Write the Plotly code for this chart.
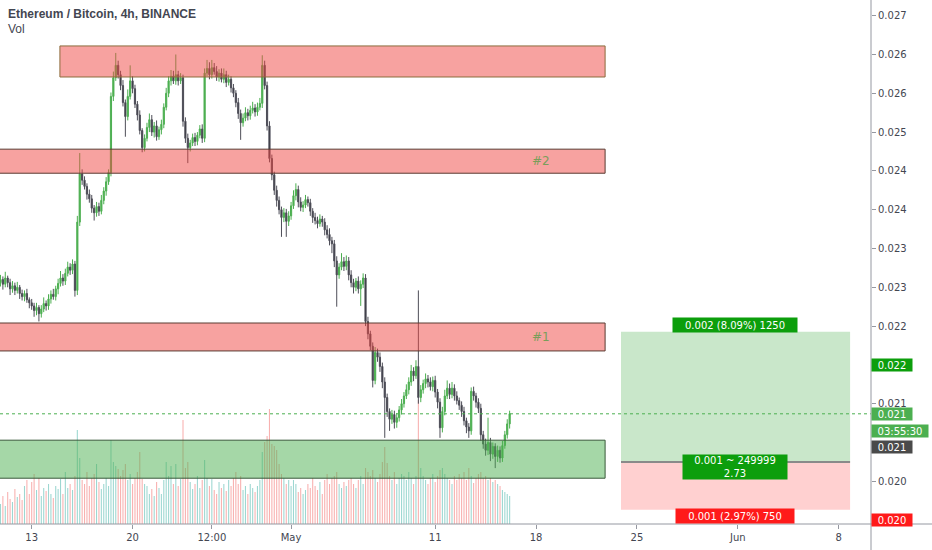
import plotly.graph_objects as go
import pandas as pd

# ETH/BTC 4h candles, prices in 1e-5 BTC units (2310 -> 0.02310)
first_open = 2306
closes = [
    2310, 2304, 2312, 2306, 2298, 2302, 2296, 2300, 2292, 2288,
    2292, 2284, 2280, 2276, 2270, 2274, 2266, 2272, 2279, 2276,
    2285, 2291, 2288, 2298, 2305, 2312, 2308, 2318, 2326, 2322,
    2330, 2296, 2384, 2446, 2438, 2430, 2420, 2414, 2402, 2396,
    2404, 2398, 2412, 2424, 2436, 2448, 2546, 2570, 2586, 2574,
    2560, 2538, 2520, 2546, 2566, 2556, 2536, 2522, 2502, 2480,
    2492, 2506, 2516, 2500, 2508, 2494, 2503, 2510, 2532, 2550,
    2566, 2572, 2566, 2574, 2566, 2570, 2514, 2492, 2480, 2486,
    2493, 2488, 2496, 2504, 2492, 2576, 2582, 2574, 2583, 2578,
    2571, 2576, 2568, 2574, 2564, 2568, 2557, 2550, 2538, 2524,
    2512, 2518, 2525, 2521, 2528, 2531, 2526, 2532, 2537, 2586,
    2560, 2508, 2466, 2445, 2425, 2412, 2400, 2390, 2396, 2385,
    2392, 2405, 2418, 2426, 2410, 2403, 2406, 2413, 2409, 2398,
    2390, 2386, 2382, 2388, 2384, 2374, 2368, 2360, 2356, 2334,
    2316, 2326, 2333, 2327, 2334, 2316, 2306, 2300, 2308, 2298,
    2304, 2312, 2256, 2240, 2224, 2180, 2216, 2210, 2198, 2178,
    2158, 2140, 2130, 2136, 2126, 2132, 2142, 2150, 2160, 2168,
    2178, 2192, 2186, 2198, 2158, 2168, 2176, 2182, 2178, 2172,
    2180, 2165, 2152, 2119, 2140, 2160, 2170, 2162, 2170, 2160,
    2154, 2148, 2140, 2128, 2120, 2115, 2166, 2160, 2152, 2144,
    2110, 2098, 2090, 2100, 2085, 2095, 2082, 2090, 2080, 2096,
    2110, 2124, 2137,
]
# upper / lower shadow length beyond the body (same units)
wick_up = [
    6, 4, 8, 3, 5, 6, 4, 7, 3, 5,
    4, 6, 3, 5, 4, 6, 3, 5, 8, 4,
    6, 5, 7, 4, 6, 9, 5, 6, 7, 5,
    6, 4, 8, 27, 6, 5, 4, 6, 5, 4,
    6, 5, 7, 5, 6, 4, 5, 8, 16, 6,
    5, 7, 4, 9, 20, 6, 5, 4, 6, 3,
    5, 6, 8, 6, 5, 7, 4, 6, 5, 7,
    6, 8, 7, 26, 5, 6, 4, 5, 6, 4,
    5, 6, 4, 5, 6, 6, 11, 8, 10, 6,
    7, 5, 6, 8, 5, 6, 4, 5, 4, 6,
    5, 6, 7, 5, 6, 8, 5, 6, 7, 13,
    6, 5, 6, 5, 4, 6, 5, 4, 6, 5,
    6, 5, 7, 8, 5, 6, 5, 6, 4, 5,
    4, 6, 5, 6, 4, 5, 6, 8, 5, 5,
    6, 5, 11, 6, 7, 5, 6, 5, 4, 6,
    5, 6, 5, 6, 4, 5, 7, 5, 6, 5,
    6, 5, 4, 6, 5, 6, 5, 6, 5, 7,
    6, 8, 5, 8, 98, 6, 5, 7, 5, 6,
    5, 6, 4, 5, 6, 8, 10, 6, 8, 5,
    6, 4, 5, 6, 4, 5, 5, 6, 4, 5,
    6, 5, 7, 32, 6, 5, 4, 6, 5, 6,
    5, 6, 4,
]
wick_down = [
    5, 7, 4, 6, 8, 5, 6, 4, 7, 5,
    6, 4, 7, 5, 8, 6, 10, 5, 4, 6,
    5, 6, 4, 5, 7, 4, 6, 5, 4, 6,
    5, 8, 6, 5, 6, 4, 7, 5, 6, 10,
    5, 6, 4, 5, 6, 4, 5, 6, 4, 5,
    6, 5, 26, 5, 4, 6, 5, 7, 5, 6,
    5, 4, 6, 5, 7, 5, 4, 6, 5, 4,
    5, 6, 4, 5, 6, 4, 7, 6, 20, 5,
    4, 6, 5, 4, 6, 5, 4, 6, 5, 4,
    5, 6, 4, 5, 6, 4, 6, 5, 6, 7,
    22, 5, 4, 6, 5, 4, 6, 5, 4, 6,
    5, 6, 5, 7, 6, 8, 6, 25, 6, 20,
    6, 5, 4, 6, 7, 5, 6, 4, 5, 6,
    7, 5, 6, 4, 6, 7, 5, 6, 12, 8,
    41, 5, 4, 6, 5, 7, 6, 8, 5, 6,
    22, 5, 6, 7, 5, 9, 5, 6, 7, 8,
    52, 7, 15, 6, 8, 7, 5, 6, 5, 4,
    6, 5, 7, 4, 8, 6, 5, 6, 7, 5,
    6, 7, 8, 13, 6, 5, 4, 6, 5, 6,
    5, 6, 7, 6, 8, 9, 5, 6, 7, 6,
    8, 6, 7, 6, 9, 6, 15, 7, 6, 5,
    4, 5, 6,
]
# volume, thousand ETH per 4h bar
volume = [
    20, 28, 18, 32, 25, 22, 35, 27, 30, 24,
    38, 44, 30, 42, 50, 34, 46, 28, 36, 33,
    40, 30, 26, 38, 35, 45, 30, 52, 36, 40,
    34, 48, 94, 66, 44, 40, 52, 38, 46, 50,
    60, 42, 35, 40, 46, 38, 84, 62, 58, 55,
    48, 54, 60, 44, 50, 40, 46, 52, 72, 45,
    40, 38, 30, 35, 28, 42, 36, 30, 44, 62,
    48, 58, 40, 60, 38, 45, 104, 56, 62, 42,
    35, 40, 48, 36, 44, 64, 46, 38, 45, 34,
    30, 42, 36, 40, 33, 44, 38, 46, 52, 40,
    48, 34, 38, 30, 40, 36, 32, 38, 44, 72,
    82, 88, 115, 80, 78, 74, 60, 50, 46, 40,
    44, 38, 44, 40, 32, 36, 30, 34, 40, 36,
    46, 38, 34, 42, 30, 44, 50, 40, 46, 48,
    52, 40, 36, 42, 38, 44, 46, 40, 36, 44,
    48, 40, 56, 52, 48, 54, 46, 42, 50, 62,
    77, 61, 48, 44, 52, 40, 46, 50, 48, 44,
    52, 46, 40, 48, 124, 56, 48, 44, 40, 46,
    50, 42, 48, 54, 56, 50, 46, 44, 40, 48,
    44, 50, 46, 52, 44, 56, 48, 41, 46, 50,
    52, 46, 48, 44, 46, 42, 44, 40, 38, 34,
    32, 30, 28,
]

# drawn zones (price bottom, top)
supply_top = (0.02571, 0.02611)
zone_2 = (0.02447, 0.02478)
zone_1 = (0.02218, 0.02254)
demand = (0.02054, 0.02103)

# long position tool
entry = 0.02075
target_pct = 8.09
stop_pct = 2.97
risk_reward = 2.73
qty_target, qty_stop, qty = 1250, 750, 249999
last_price = 0.02137

x_ticks = ["2020-04-13", "2020-04-20", "2020-04-25 12:00", "2020-05-01", "2020-05-11",
           "2020-05-18", "2020-05-25", "2020-06-01", "2020-06-08"]
x_labels = ["13", "20", "12:00", "May", "11", "18", "25", "Jun", "8"]
y_ticks = [0.0265, 0.0260, 0.0255, 0.0250, 0.0245, 0.0240, 0.0235, 0.0230,
           0.0225, 0.0220, 0.0215, 0.0210, 0.0205, 0.0200]
# labels at 0.0220 / 0.0210 / 0.0200 sit under the coloured price tags
y_labels = ["0.027", "0.026", "0.026", "0.025", "0.024", "0.024", "0.023", "0.023",
            "0.022", "", "0.021", "", "0.020", ""]

P = 1e-5
times = pd.date_range("2020-04-10 20:00", periods=len(closes), freq="4h")
opens = [first_open] + closes[:-1]
highs = [max(o, c) + w for o, c, w in zip(opens, closes, wick_up)]
lows = [min(o, c) - w for o, c, w in zip(opens, closes, wick_down)]
vol_colors = ["rgba(38,166,154,0.45)" if c >= o else "rgba(239,83,80,0.45)"
              for o, c in zip(opens, closes)]

target = entry * (1 + target_pct / 100)
stop = entry * (1 - stop_pct / 100)

TXT = "#434651"
AX = "#9598a1"
GREEN = "#4caf50"

fig = go.Figure()

# volume pane (drawn first, under the candles)
fig.add_trace(go.Bar(
    x=times, y=volume, marker_color=vol_colors, marker_line_width=0,
    width=4 * 3600 * 1000 * 0.45, yaxis="y", hoverinfo="skip"
))

fig.add_trace(go.Candlestick(
    x=times,
    open=[v * P for v in opens], high=[v * P for v in highs],
    low=[v * P for v in lows], close=[v * P for v in closes],
    increasing=dict(line=dict(color=GREEN, width=1), fillcolor=GREEN),
    decreasing=dict(line=dict(color="#4e4e58", width=1), fillcolor="#2b2b33"),
    whiskerwidth=0, yaxis="y2", xaxis="x"
))

shapes = []

def zone(x0, x1, lo, hi, fill, border):
    shapes.append(dict(type="rect", xref="x", yref="y2", x0=x0, x1=x1, y0=lo, y1=hi,
                       fillcolor=fill, line=dict(color=border, width=1), layer="above"))

zone("2020-04-14 23:00", "2020-05-22 19:00", *supply_top, "rgba(240,70,65,0.5)", "#8c6b3c")
zone("2020-04-05", "2020-05-22 19:00", *zone_2, "rgba(240,70,65,0.5)", "#5a3c32")
zone("2020-04-05", "2020-05-22 19:00", *zone_1, "rgba(240,70,65,0.5)", "#5a3c32")
zone("2020-04-05", "2020-05-22 19:00", *demand, "rgba(76,175,80,0.5)", "#3a5a3a")

# position tool
pos_x0, pos_x1 = "2020-05-23 21:30", "2020-06-08 19:00"
shapes.append(dict(type="rect", xref="x", yref="y2", x0=pos_x0, x1=pos_x1, y0=entry, y1=target,
                   fillcolor="rgba(76,175,80,0.3)", line=dict(width=0), layer="above"))
shapes.append(dict(type="rect", xref="x", yref="y2", x0=pos_x0, x1=pos_x1, y0=stop, y1=entry,
                   fillcolor="rgba(255,82,82,0.27)", line=dict(width=0), layer="above"))
shapes.append(dict(type="line", xref="x", yref="y2", x0=pos_x0, x1=pos_x1, y0=entry, y1=entry,
                   line=dict(color="#8a8a8a", width=2), layer="above"))

# last price dotted line
shapes.append(dict(type="line", xref="paper", yref="y2", x0=0, x1=1, y0=last_price, y1=last_price,
                   line=dict(color=GREEN, width=1, dash="dot"), layer="above"))

# price / time scale borders
shapes.append(dict(type="line", xref="paper", yref="paper", x0=0, x1=932 / 871, y0=0, y1=0,
                   line=dict(color=AX, width=1)))
shapes.append(dict(type="line", xref="paper", yref="paper", x0=1, x1=1, y0=-26 / 524, y1=1,
                   line=dict(color=AX, width=1)))

annotations = [
    dict(text="<b>Ethereum / Bitcoin, 4h, BINANCE</b>", xref="paper", yref="paper",
         x=0.007, y=1 - 14 / 524, xanchor="left", yanchor="middle", showarrow=False,
         font=dict(family="Liberation Sans", size=12, color=TXT)),
    dict(text="Vol", xref="paper", yref="paper", x=0.007, y=1 - 29 / 524,
         xanchor="left", yanchor="middle", showarrow=False,
         font=dict(family="Liberation Sans", size=12, color=TXT)),
    dict(text="#2", xref="x", yref="y2", x="2020-05-18 08:00", y=sum(zone_2) / 2,
         showarrow=False, font=dict(family="DejaVu Sans", size=12, color="#7a9e5a")),
    dict(text="#1", xref="x", yref="y2", x="2020-05-18 08:00", y=sum(zone_1) / 2,
         showarrow=False, font=dict(family="DejaVu Sans", size=12, color="#7a9e5a")),
]

mid_x = "2020-05-31 19:30"
lab_font = dict(family="DejaVu Sans", size=10, color="white")
annotations += [
    dict(text="%.3f (%.2f%%) %d" % (target - entry, target_pct, qty_target), xref="x", yref="y2",
         x=mid_x, y=target, yshift=7, showarrow=False, bgcolor="#0c9e0c", width=122, height=12,
         font=lab_font),
    dict(text="%.3f ~ %d<br>%.2f" % (entry - stop, qty, risk_reward), xref="x",
         yref="y2", x=mid_x, y=entry, yshift=-5, showarrow=False, bgcolor="#0c9e0c",
         width=102, height=22, font=lab_font),
    dict(text="%.3f (%.2f%%) %d" % (entry - stop, stop_pct, qty_stop), xref="x", yref="y2",
         x=mid_x, y=stop, yshift=-6, showarrow=False, bgcolor="#ff1a1a", width=116, height=12,
         font=lab_font),
]

def price_label(text, price, color, shift=0, w=40):
    annotations.append(dict(text=text, xref="paper", yref="y2", x=1, y=price, yshift=shift,
                            xanchor="left", showarrow=False, bgcolor=color, width=w, height=12,
                            borderpad=0, font=dict(family="DejaVu Sans", size=10, color="white")))

price_label("0.022", 0.0220, "#0c9e0c")
price_label("0.021", last_price, GREEN)
price_label("03:55:30", last_price, GREEN, shift=-17, w=56)
price_label("0.021", 0.02094, "#4a4a4a")
price_label("0.020", 0.0200, "#ff1a1a")

fig.update_layout(
    width=932, height=550,
    margin=dict(l=0, r=61, t=0, b=26),
    plot_bgcolor="white", paper_bgcolor="white",
    showlegend=False,
    font=dict(family="DejaVu Sans", size=10, color=TXT),
    xaxis=dict(type="date", range=["2020-04-10 19:12", "2020-06-10 05:51"],
               tickvals=x_ticks, ticktext=x_labels, ticks="outside", ticklen=4,
               tickcolor=AX, showgrid=False, zeroline=False, showline=False,
               rangeslider=dict(visible=False), tickfont=dict(size=10, color=TXT)),
    yaxis=dict(range=[0, 524], visible=False, fixedrange=True),
    yaxis2=dict(overlaying="y", side="right", range=[0.01995, 0.026702],
                tickvals=y_ticks, ticktext=y_labels, ticks="outside", ticklen=4,
                tickcolor=AX, showgrid=False, zeroline=False, showline=False,
                tickfont=dict(size=10, color=TXT)),
    shapes=shapes,
    annotations=annotations,
)

# page body margin would shift the 932x550 figure inside the window
fig.write_html("out.html", config={"displayModeBar": False},
               post_script="document.body.style.margin='0';")
